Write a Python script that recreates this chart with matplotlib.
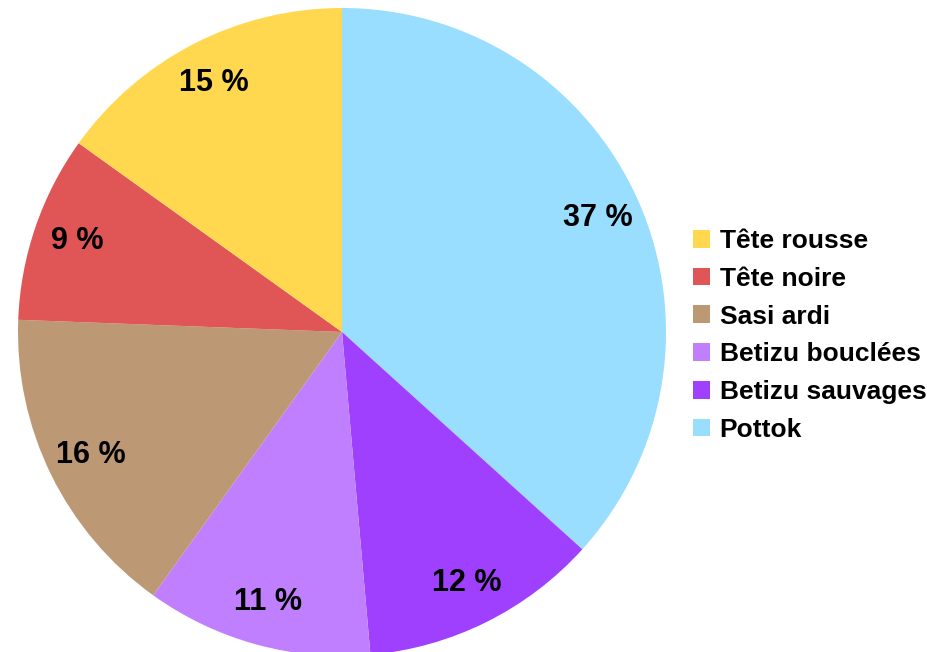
import matplotlib
matplotlib.use("Agg")
import matplotlib.pyplot as plt
from matplotlib.patches import Patch

# ─── DATA ─────────────────────────────────────────────────────────────────────
breeds = ["Pottok", "Betizu sauvages", "Betizu bouclées", "Sasi ardi",
          "Tête noire", "Tête rousse"]
shares = [36.7, 11.9, 11.3, 15.7, 9.3, 15.1]
colors = ["#99DDFF", "#A040FF", "#BF7FFF", "#BC9875", "#E05656", "#FFD850"]

plt.rcParams["font.family"] = ["Liberation Sans", "DejaVu Sans"]

W, H = 927, 652
fig = plt.figure(figsize=(W / 100, H / 100), dpi=100)

# pie centre (342, 332) px, radius 324 px
cx, cy, r = 342, 332, 324
ax = fig.add_axes([(cx - r) / W, (H - cy - r) / H, 2 * r / W, 2 * r / H])
ax.pie(shares, colors=colors, startangle=90, counterclock=False,
       radius=1, pctdistance=0.865,
       autopct=lambda p: f"{round(p)} %",
       textprops=dict(fontsize=22, fontweight="bold", color="black"),
       wedgeprops=dict(linewidth=0))
ax.set_xlim(-1, 1)
ax.set_ylim(-1, 1)
ax.set_aspect("equal")
ax.axis("off")

handles = [Patch(facecolor=c, edgecolor="none") for c in colors][::-1]
labels = breeds[::-1]
fig.legend(handles, labels, loc="upper left",
           bbox_to_anchor=(672 / W, 1 - 208 / H),
           frameon=False, handlelength=0.65, handleheight=0.65,
           handletextpad=0.35, labelspacing=0.52, borderpad=0.3,
           prop=dict(size=19, weight="bold"))

fig.savefig("out.png", dpi=100)
